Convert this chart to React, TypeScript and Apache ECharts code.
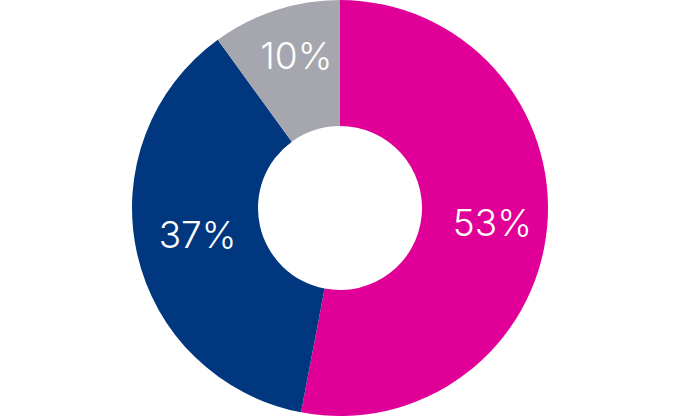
import React, { useEffect, useRef } from "react";
import * as echarts from "echarts";

const categories = ["A", "B", "C"];
const values = [53, 37, 10];
const colors = ["#E00098", "#00377F", "#A6A7AE"];
const labelOffsets: [number, number][] = [[5, 1], [2, -6], [2, -12]];

export default function App() {
  const ref = useRef<HTMLDivElement>(null);
  useEffect(() => {
    document.body.style.margin = "0";
    const chart = echarts.init(ref.current!, undefined, { renderer: "svg" });
    chart.setOption({
      animation: false,
      series: [
        {
          type: "pie",
          center: [340, 208],
          radius: [82, 208],
          startAngle: 90,
          clockwise: true,
          avoidLabelOverlap: false,
          label: {
            show: true,
            position: "inside",
            formatter: "{c}%",
            color: "#ffffff",
            fontFamily: "Inter",
            fontWeight: 300,
            fontSize: 37,
          },
          labelLine: { show: false },
          itemStyle: { borderWidth: 0 },
          emphasis: { disabled: true },
          data: categories.map((name, i) => ({
            name,
            value: values[i],
            itemStyle: { color: colors[i] },
            label: { offset: labelOffsets[i] },
          })),
        },
      ],
    });
    return () => chart.dispose();
  }, []);
  return (
    <div
      ref={ref}
      style={{ position: "absolute", left: 0, top: 0, width: 680, height: 416 }}
    />
  );
}
